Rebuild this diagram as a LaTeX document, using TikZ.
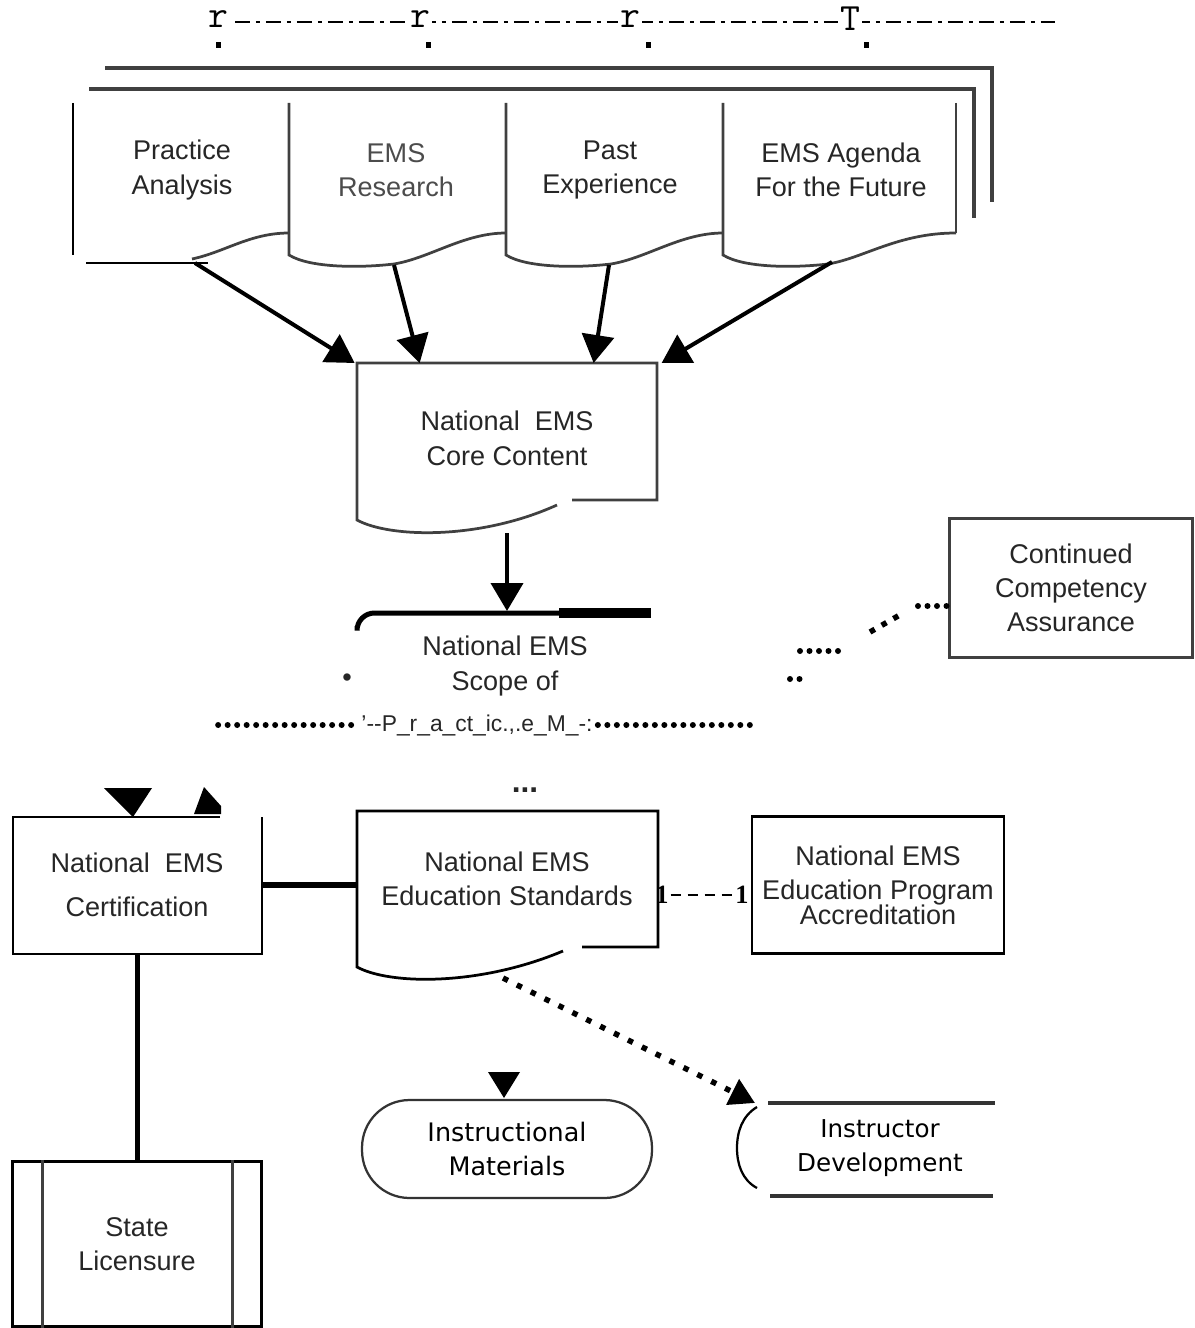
\documentclass[tikz,border=0pt]{standalone}
\usepackage{fontspec}
\setmainfont{Liberation Sans}
\newfontfamily\verdfont{DejaVu Sans}
\newfontfamily\timesfont{Liberation Serif}
\usetikzlibrary{arrows.meta,positioning}

\begin{document}
\begin{tikzpicture}[x=0.02cm,y=-0.02cm,
    txt/.style={align=center,inner sep=0pt,text=black!85,font=\fontsize{15.4}{19.4}\selectfont},
    frame/.style={draw=black!75,line width=0.055cm},
    feed/.style={-{Triangle[width=0.64cm,length=0.56cm]},line width=0.08cm},
    dotrow/.style={line width=0.12cm,line cap=round,dash pattern=on 0pt off 0.19cm},
    sqdots/.style={line width=0.11cm,dash pattern=on 0.11cm off 0.2cm,-{Triangle[width=0.55cm,length=0.5cm]}},
    oval/.style={draw=black!80,line width=0.045cm,rounded corners=0.95cm,align=center,inner sep=0pt,
        font=\verdfont\fontsize{14.5}{19.3}\selectfont}
]
\useasboundingbox (0,0) rectangle (1195,1328);

% Top strip
\draw[line width=0.04cm,dash pattern=on 0.08cm off 0.12cm on 0.3cm off 0.12cm] (225,22) -- (1055,22);
\foreach \x/\c in {218/r,420/r,630/r,850/T}
    \node[fill=white,inner sep=1pt,font=\ttfamily\fontsize{22}{22}\selectfont] (top\x) at (\x,19) {\c};
\foreach \x in {218,428,648,866}
    \fill (\x-2,42) rectangle (\x+3,48);

% Outer frame lines
\draw[frame,line width=0.065cm] (105,68) -- (992,68) -- (992,202);
\draw[frame,line width=0.065cm] (89,89) -- (974,89) -- (974,218);

% Input documents
\draw[frame,draw=black] (73,103) -- (73,255);
\draw[frame,draw=black] (86,263) -- (208,263);
\draw[frame] (192,259) .. controls (225,252) and (250,233) .. (289,233);
\foreach \xl/\w in {289/217,506/217,723/233}
    \draw[frame] (\xl,103) -- (\xl,255) .. controls (\xl+21,268) and (\xl+71,268) .. (\xl+105,264)
        .. controls (\xl+141,258) and (\xl+175,233) .. (\xl+\w,233);
\draw[frame] (956,103) -- (956,233);

\node[txt] (pa) at (182,170) {Practice\\Analysis};
\node[txt,text=black!70] (re) at (396,170) {EMS\\Research};
\node[txt] (pe) at (610,170) {Past\\Experience};
\node[txt] (ag) at (841,170) {EMS Agenda\\For the Future};

\coordinate (pa-b) at (195,263);
\coordinate (re-b) at (394,265);
\coordinate (pe-b) at (609,265);
\coordinate (ag-b) at (832,262);

% Core content
\node[txt,minimum width=6cm,minimum height=3cm,anchor=north] (core) at (507,363) {National\ \ EMS\\Core Content};
\draw[frame] (572,500) -- (657,500) -- (657,363) -- (357,363) -- (357,520)
    .. controls (390,538) and (480,540) .. (557,505);

\foreach \s/\t in {pa/-0.04,re/1.26,pe/4.74,ag/6.1}
    \draw[feed] (\s-b) -- ([xshift=\t cm]core.north west);

\coordinate (core-b) at (507,533);
\coordinate (scope-top) at (507,611);
\draw[feed] (core-b) -- (scope-top);

% Scope of practice
\draw[line width=0.1cm,rounded corners=0.35cm] (357,626) -- (357,613) -- (560,613);
\fill (559,608) rectangle (651,618);
\node[txt] (scope) at (505,666) {National EMS\\Scope of};
\node[txt] (bul) at (347,680) {•};

\node[inner sep=0pt,text=black!85,font=\fontsize{13}{15}\selectfont] (pm) at (477,725) {'-{}-P\_r\_a\_ct\_ic.,.e\_M\_-:};
\coordinate (dl) at (216,725);
\coordinate (dr) at (750,725);
\draw[dotrow] ([xshift=-0.2cm]pm.west) -- (dl);
\draw[dotrow] ([xshift=0.1cm]pm.east) -- (dr);

% Continued competency
\node[txt,frame,minimum width=4.86cm,minimum height=2.78cm] (cca) at (1071,588) {Continued\\Competency\\Assurance};
\coordinate (sc-e) at (790,679);
\draw[dotrow] (sc-e) -- ++(10,0) (800,651) -- (846,651);
\draw[line width=0.11cm,dash pattern=on 0.11cm off 0.16cm] (870,632) -- (905,612);
\draw[dotrow] (918,606) -- ([yshift=-0.36cm]cca.west);

% Certification
\node[txt,font=\bfseries\fontsize{18}{18}\selectfont] (dots) at (525,790) {...};
\fill (104,788) -- (152,788) -- (133,817) -- cycle;
\fill (194,814) -- (204,787) -- (221,806) -- (221,814) -- cycle;

\node[txt,minimum width=4.98cm,minimum height=2.74cm] (cert) at (137,885) {National\ \ EMS\\[0.2cm]Certification};
\draw[frame,draw=black] (220,817) -- (13,817) -- (13,954) -- (262,954) -- (262,817);

% Education standards
\node[txt,minimum width=6cm,minimum height=2.72cm] (std) at (507,879) {National EMS\\Education Standards};
\draw[frame,draw=black] (582,947) -- (658,947) -- (658,811) -- (357,811) -- (357,967)
    .. controls (390,985) and (480,986) .. (563,951);
\draw[line width=0.12cm] (cert.east) -- (cert.east -| std.west);

\node[inner sep=1pt,font=\timesfont\bfseries\fontsize{15}{15}\selectfont] (one-l) at (662,895) {1};
\node[inner sep=1pt,font=\timesfont\bfseries\fontsize{15}{15}\selectfont] (one-r) at (742,895) {1};
\draw[line width=0.035cm,dash pattern=on 0.2cm off 0.14cm] (one-l) -- (one-r);

\node[txt,frame,draw=black,minimum width=5.04cm,minimum height=2.74cm] (acc) at (878,885) {National EMS\\Education Program\\[-0.18cm]Accreditation};

% Materials and instructors
\coordinate (std-b) at (503,978);
\coordinate (ins-tip) at (755,1103);
\draw[sqdots] (std-b) -- (ins-tip);

\fill (488,1072) -- (520,1072) -- (504,1098) -- cycle;
\node[oval,minimum width=5.8cm,minimum height=1.96cm] (mat) at (507,1149) {Instructional\\Materials};

\node[align=center,inner sep=0pt,font=\verdfont\fontsize{14}{19.3}\selectfont] (ins) at (880,1148) {Instructor\\Development};
\draw[line width=0.08cm,draw=black!80] (768,1103) -- (995,1103);
\draw[line width=0.08cm,draw=black!80] (770,1196) -- (993,1196);
\draw[line width=0.045cm] (757,1107) .. controls (742,1116) and (737,1132) .. (737,1148)
    .. controls (737,1164) and (742,1180) .. (757,1188);

% State licensure
\node[txt,frame,draw=black,minimum width=4.98cm,minimum height=3.3cm] (lic) at (137,1244) {State\\Licensure};
\draw[frame] ([xshift=0.62cm]lic.north west) -- ([xshift=0.62cm]lic.south west);
\draw[frame] ([xshift=-0.6cm]lic.north east) -- ([xshift=-0.6cm]lic.south east);
\draw[line width=0.1cm] (cert.south) -- (lic.north);
\end{tikzpicture}
\end{document}
